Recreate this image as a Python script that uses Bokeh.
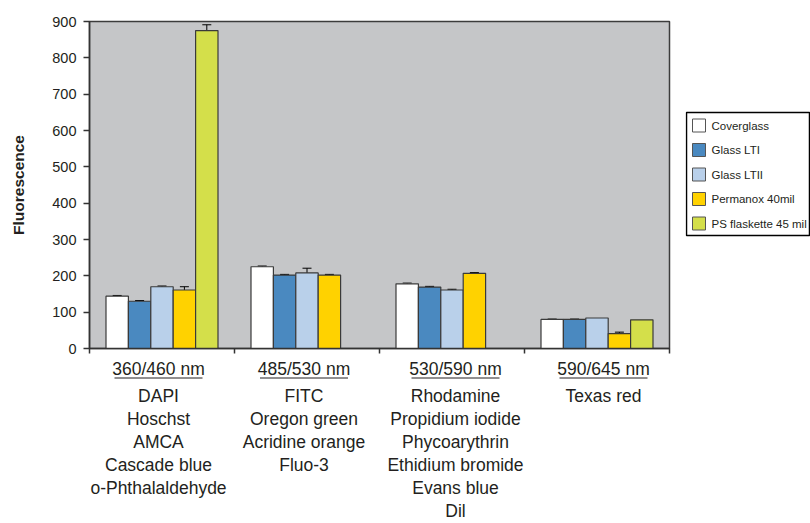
from bokeh.plotting import figure
from bokeh.models import Range1d, FixedTicker, ColumnDataSource, Whisker, TeeHead
from bokeh.layouts import column, row
from bokeh.embed import file_html
from bokeh.resources import INLINE
from bokeh.core.properties import value

# ---------------- data ----------------
groups = ["360/460 nm", "485/530 nm", "530/590 nm", "590/645 nm"]
dyes = [
    ["DAPI", "Hoschst", "AMCA", "Cascade blue", "o-Phthalaldehyde"],
    ["FITC", "Oregon green", "Acridine orange", "Fluo-3"],
    ["Rhodamine", "Propidium iodide", "Phycoarythrin", "Ethidium bromide", "Evans blue", "Dil"],
    ["Texas red"],
]
series = ["Coverglass", "Glass LTI", "Glass LTII", "Permanox 40mil", "PS flaskette 45 mil"]
colors = ["#ffffff", "#4a89c0", "#b9d0ea", "#ffd200", "#d4df4a"]

coverglass = [144, 225, 178, 80]
glass_lti = [130, 202, 169, 80]
glass_ltii = [170, 208, 161, 84]
permanox = [161, 202, 207, 41]
ps_flaskette = [875, None, None, 79]

coverglass_err = [2, 2, 2, 1]
glass_lti_err = [2, 2, 2, 1]
glass_ltii_err = [2, 13, 2, 0]
permanox_err = [9, 2, 2, 4]
ps_flaskette_err = [16, None, None, 0]

y_ticks = [0, 100, 200, 300, 400, 500, 600, 700, 800, 900]

values = [coverglass, glass_lti, glass_ltii, permanox, ps_flaskette]
errors = [coverglass_err, glass_lti_err, glass_ltii_err, permanox_err, ps_flaskette_err]

# ---------------- layout constants ----------------
TOTAL_W = 810
TOTAL_H = 523
FRAME_W = 580
LEFT = 89
RIGHT = 16
W = LEFT + FRAME_W + RIGHT
LW = TOTAL_W - W
TOP = 21
FRAME_H = 327
H_MAIN = TOP + FRAME_H + 10
H_LAB = TOTAL_H - H_MAIN
PX = len(groups) / FRAME_W  # data units per pixel in x
slot = 22.4 * PX
TXT = "#231f20"
FONT = "Liberation Sans"

p = figure(width=W, height=H_MAIN, x_range=Range1d(0, len(groups)), y_range=Range1d(0, 900),
           output_backend="svg", toolbar_location=None,
           min_border_left=LEFT, min_border_right=RIGHT, min_border_top=TOP, min_border_bottom=10,
           background_fill_color="#c5c6c8", border_fill_color="white",
           outline_line_color="#3c3c3c", outline_line_width=1.5)
p.xgrid.visible = False
p.ygrid.visible = False

for j, (name, vals, errs) in enumerate(zip(series, values, errors)):
    xs, tops, lo, hi, ex = [], [], [], [], []
    for i, v in enumerate(vals):
        if v is None:
            continue
        x = i + 0.5 + (j - 2) * slot
        xs.append(x)
        tops.append(v)
        e = errs[i]
        if e:
            ex.append(x)
            lo.append(v)
            hi.append(v + e)
    src = ColumnDataSource(dict(x=xs, top=tops))
    p.vbar(x="x", top="top", width=slot, bottom=0, source=src,
           fill_color=colors[j], line_color="#3a3a3a", line_width=1.2)
    if ex:
        esrc = ColumnDataSource(dict(x=ex, lower=lo, upper=hi))
        w = Whisker(base="x", lower="lower", upper="upper", source=esrc, dimension="height",
                    line_color="black", line_width=1,
                    upper_head=TeeHead(size=9, line_color="black", line_width=1),
                    lower_head=None)
        p.add_layout(w)

# axes
xa = p.xaxis[0]
xa.ticker = FixedTicker(ticks=list(range(len(groups) + 1)))
xa.major_label_overrides = {k: "" for k in range(len(groups) + 1)}
xa.major_label_text_font_size = "1px"
xa.major_label_standoff = 0
xa.major_tick_out = 5
xa.major_tick_in = 0
xa.minor_tick_out = 0
xa.minor_tick_in = 0
xa.axis_line_color = "#333333"
xa.axis_line_width = 1.5
xa.major_tick_line_color = "#333333"
xa.major_tick_line_width = 1.5

ya = p.yaxis[0]
ya.ticker = FixedTicker(ticks=y_ticks)
ya.major_tick_out = 6
ya.major_tick_in = 0
ya.minor_tick_out = 0
ya.minor_tick_in = 0
ya.axis_line_color = "#333333"
ya.axis_line_width = 1.5
ya.major_tick_line_color = "#333333"
ya.major_tick_line_width = 1.5
ya.major_label_text_font = FONT
ya.major_label_text_font_size = "14.5px"
ya.major_label_text_color = TXT
ya.major_label_standoff = 7
ya.axis_label = "Fluorescence"
ya.axis_label_text_font = FONT
ya.axis_label_text_font_style = "bold"
ya.axis_label_text_font_size = "15.5px"
ya.axis_label_text_color = TXT
ya.axis_label_standoff = 22

# ---------------- label strip under the x axis ----------------
q = figure(width=W, height=H_LAB, x_range=p.x_range, y_range=Range1d(0, H_LAB),
           output_backend="svg", toolbar_location=None, x_axis_type=None, y_axis_type=None,
           min_border_left=LEFT, min_border_right=RIGHT, min_border_top=0, min_border_bottom=0,
           outline_line_color=None, background_fill_color="white", border_fill_color="white")
q.grid.visible = False

label_dx = [-3.5, -3, 3.5, 6.5]  # px shift of each label block
head_y = H_LAB - 10
under_y = H_LAB - 19.5
first_y = H_LAB - 37.5
step = 23.0
under_half = 44

hx, hy, ux0, ux1, uy, tx, ty, tt = [], [], [], [], [], [], [], []
for i, g in enumerate(groups):
    cx = i + 0.5 + label_dx[i] * PX
    hx.append(cx); hy.append(head_y)
    ux0.append(cx - under_half * PX); ux1.append(cx + under_half * PX); uy.append(under_y)
    for k, d in enumerate(dyes[i]):
        tx.append(cx); ty.append(first_y - k * step); tt.append(d)

q.text(x=hx, y=hy, text=groups, text_align="center", text_baseline="middle",
       text_font=value(FONT), text_font_size="17.5px", text_color=TXT)
q.segment(x0=ux0, y0=uy, x1=ux1, y1=uy, line_color=TXT, line_width=1)
q.text(x=tx, y=ty, text=tt, text_align="center", text_baseline="middle",
       text_font=value(FONT), text_font_size="17.5px", text_color=TXT)

# ---------------- legend panel (pixel coordinates) ----------------
lf = figure(width=LW, height=TOTAL_H, x_range=Range1d(0, LW), y_range=Range1d(0, TOTAL_H),
            output_backend="svg", toolbar_location=None, x_axis_type=None, y_axis_type=None,
            min_border=0, outline_line_color=None,
            background_fill_color="white", border_fill_color="white")
lf.grid.visible = False

box_top = TOTAL_H - 112
box_bot = TOTAL_H - 235
lf.quad(left=[1], right=[LW - 1], top=[box_top], bottom=[box_bot],
        fill_color="white", line_color="black", line_width=1.5)
item_step = 24.5
first_item = box_top - 13
sy = [first_item - k * item_step for k in range(len(series))]
lf.rect(x=[13.5] * len(series), y=sy, width=13, height=13, fill_color=colors,
        line_color="#555555", line_width=1)
lf.text(x=[26] * len(series), y=sy, text=series, text_align="left", text_baseline="middle",
        text_font=value(FONT), text_font_size="11.5px", text_color=TXT)

layout = row(column(p, q, spacing=0), lf, spacing=0)
open("out.html", "w").write(file_html(layout, INLINE))
